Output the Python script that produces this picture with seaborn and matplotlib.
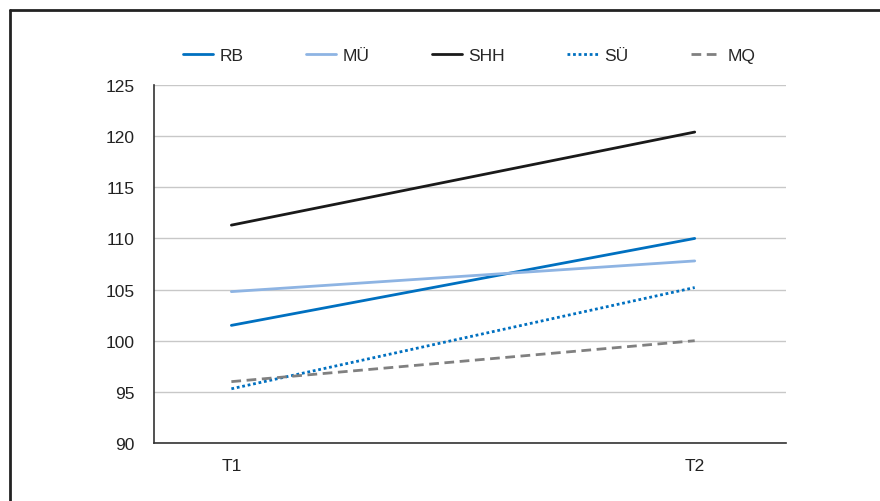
import seaborn as sns
import matplotlib.pyplot as plt
import matplotlib.lines as mlines
import pandas as pd

sns.set_style("white")
plt.rcParams["font.family"] = ["Liberation Sans", "DejaVu Sans"]

times = ["T1", "T2"]
groups = ["RB", "MÜ", "SHH", "SÜ", "MQ"]
rb = [101.5, 110.0]
mu = [104.8, 107.8]
shh = [111.3, 120.4]
su = [95.3, 105.2]
mq = [96.0, 100.0]

df = pd.DataFrame({
    "Zeit": times * 5,
    "Gruppe": [g for g in groups for _ in times],
    "Wert": rb + mu + shh + su + mq,
})

palette = {"RB": "#0070C0", "MÜ": "#8EB4E3", "SHH": "#1A1A1A",
           "SÜ": "#0070C0", "MQ": "#808080"}
dashes = {"RB": "", "MÜ": "", "SHH": "", "SÜ": (1, 1), "MQ": (3.5, 2)}

fig = plt.figure(figsize=(8.8, 5.02), dpi=100)
ax = fig.add_axes([154 / 880, 1 - 444 / 502, (786 - 154) / 880, (444 - 86) / 502])

sns.lineplot(data=df, x="Zeit", y="Wert", hue="Gruppe", style="Gruppe",
             palette=palette, dashes=dashes, hue_order=groups,
             style_order=groups, linewidth=2, ax=ax, legend=False)

ax.set_ylim(90, 125)
ax.set_yticks(range(90, 126, 5))
ax.set_xlim(-0.167, 1.197)
ax.set_xlabel("")
ax.set_ylabel("")
ax.yaxis.grid(True, color="#C8C8C8", linewidth=1)
ax.set_axisbelow(True)
for s in ["top", "right"]:
    ax.spines[s].set_visible(False)
for s in ["left", "bottom"]:
    ax.spines[s].set_color("#333333")
    ax.spines[s].set_linewidth(1.2)
ax.tick_params(axis="both", length=0, labelsize=12.5, colors="#222222")
ax.tick_params(axis="y", pad=14)
ax.tick_params(axis="x", pad=11)

handles = [mlines.Line2D([], [], color=palette[g], linewidth=2,
                         dashes=dashes[g] if dashes[g] else (None, None))
           for g in groups]
fig.legend(handles, groups, loc="center", ncol=5, frameon=False,
           bbox_to_anchor=(469 / 880, 1 - 56 / 502), fontsize=12.5,
           handlelength=1.75, columnspacing=3.6, handletextpad=0.35)

# outer frame (top and left edges)
fig.add_artist(mlines.Line2D([9.5 / 880, 9.5 / 880], [0, 1 - 11 / 502],
                             color="#222222", linewidth=2, transform=fig.transFigure))
fig.add_artist(mlines.Line2D([9.5 / 880, 1], [1 - 11 / 502, 1 - 11 / 502],
                             color="#222222", linewidth=2, transform=fig.transFigure))

fig.savefig("out.png", dpi=100)
